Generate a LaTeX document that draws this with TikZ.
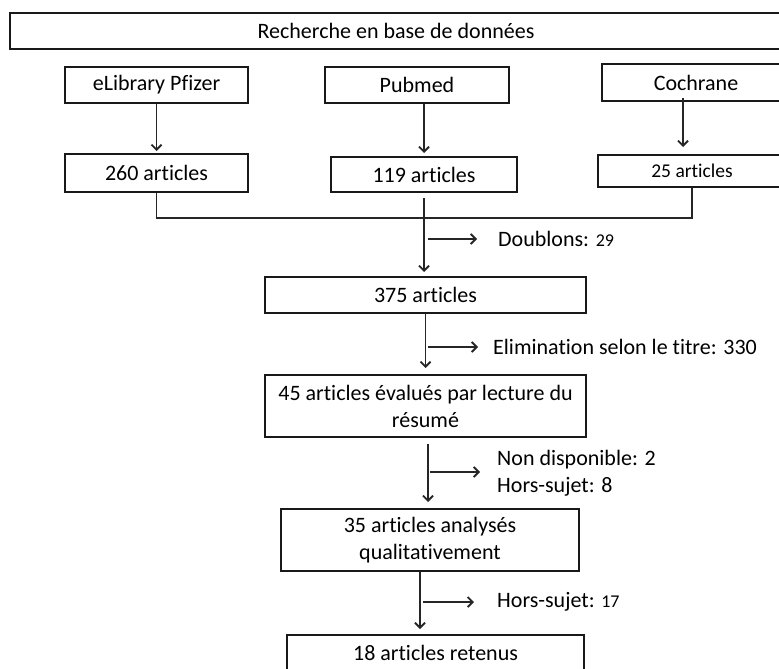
\documentclass[tikz,border=0pt]{standalone}
\usepackage{fontspec}
\setmainfont{Carlito}[Ligatures=NoCommon]
\usetikzlibrary{arrows.meta}

\begin{document}
\begin{tikzpicture}[x=1pt,y=-1pt,
        arrow/.style={-{Straight Barb[length=5pt,width=10pt]},line width=1.8pt,draw=black!85,shorten >= 4pt},
        link/.style={line width=1.8pt,draw=black!85},
        box/.style={draw=black!90,line width=2pt,inner sep=0pt,align=center,
            font=\fontsize{22}{27}\selectfont},
        side/.style={anchor=west,inner sep=0pt,align=left,
            font=\fontsize{22}{27}\selectfont},
        small/.style={font=\fontsize{19.5}{22}\selectfont},
    ]
        \clip (0,0) rectangle (779,669);

        % sources
        \node (search) at (396,31) [box,minimum width=772pt,minimum height=36pt]
            {Recherche en base de données};

        \node (elib)     at (156.5,85) [box,minimum width=183pt,minimum height=36pt] {eLibrary Pfizer};
        \node (pubmed)   at (417,85)   [box,minimum width=184pt,minimum height=36pt] {Pubmed};
        \node (cochrane) at (696,82.5) [box,minimum width=188pt,minimum height=37pt] {Cochrane};

        \node (a260) at (156.5,173) [box,minimum width=183pt,minimum height=38pt] {260 articles};
        \node (a119) at (424,174.5) [box,minimum width=186pt,minimum height=35pt] {119 articles};
        \node (a25)  at (692,171)   [box,small,minimum width=188pt,minimum height=32pt] {25 articles};

        \draw[arrow,shorten >= 2pt] (elib) -- (a260);
        \draw[arrow,shorten >= 3pt] (pubmed.south -| a119.north) -- (a119.north);
        \draw[arrow,shorten <= -4pt,shorten >= 7pt]
            ([xshift=-13pt]cochrane.south) -- ([xshift=-13pt]cochrane.south |- a25.north);

        % merge
        \coordinate (merge) at (424,218);
        \draw[link] (a260.south) |- (merge) -| (a25.south);

        % selection
        \node (a375) at (425.5,295) [box,minimum width=321pt,minimum height=36pt] {375 articles};
        \node (a45)  at (425.5,406) [box,minimum width=321pt,minimum height=62pt]
            {45 articles évalués par lecture du\\résumé};
        \node (a35)  at (430,540)   [box,minimum width=298pt,minimum height=62pt]
            {35 articles analysés\\qualitativement};
        \node (a18)  at (435.5,653) [box,minimum width=297pt,minimum height=36pt] {18 articles retenus};

        \draw[arrow,shorten <= 5pt] (a119.south) -- (a119.south |- a375.north);
        \draw[arrow,shorten >= 6pt] (a375.south) -- (a375.south |- a45.north);
        \draw[arrow,shorten <= 6pt,shorten >= 6pt]
            ([xshift=2.5pt]a45.south) -- ([xshift=2.5pt]a45.south |- a35.north);
        \draw[arrow,shorten >= 5pt]
            ([xshift=-10pt]a35.south) -- ([xshift=-10pt]a35.south |- a18.north);

        % exclusions
        \node (dbl)  at (498,239)   [side] {Doublons: {\fontsize{18}{20}\selectfont 29}};
        \node (elim) at (493,347)   [side] {Elimination selon le titre: 330};
        \node (nd)   at (497,473.5) [side] {Non disponible: 2\\Hors-sujet: 8};
        \node (hs)   at (497,602)   [side] {Hors-sujet: {\fontsize{18}{20}\selectfont 17}};

        \coordinate (dup)  at (428,239);
        \coordinate (tit)  at (428,347);
        \coordinate (abs)  at (430,472);
        \coordinate (qual) at (423,602);

        \draw[arrow,shorten >= 21pt] (dup) -- (dbl.west);
        \draw[arrow,shorten >= 15pt] (tit) -- (elim.west);
        \draw[arrow,shorten >= 17pt] (abs) -- (abs -| nd.west);
        \draw[arrow,shorten >= 23pt] (qual) -- (hs.west);
    \end{tikzpicture}
\end{document}
